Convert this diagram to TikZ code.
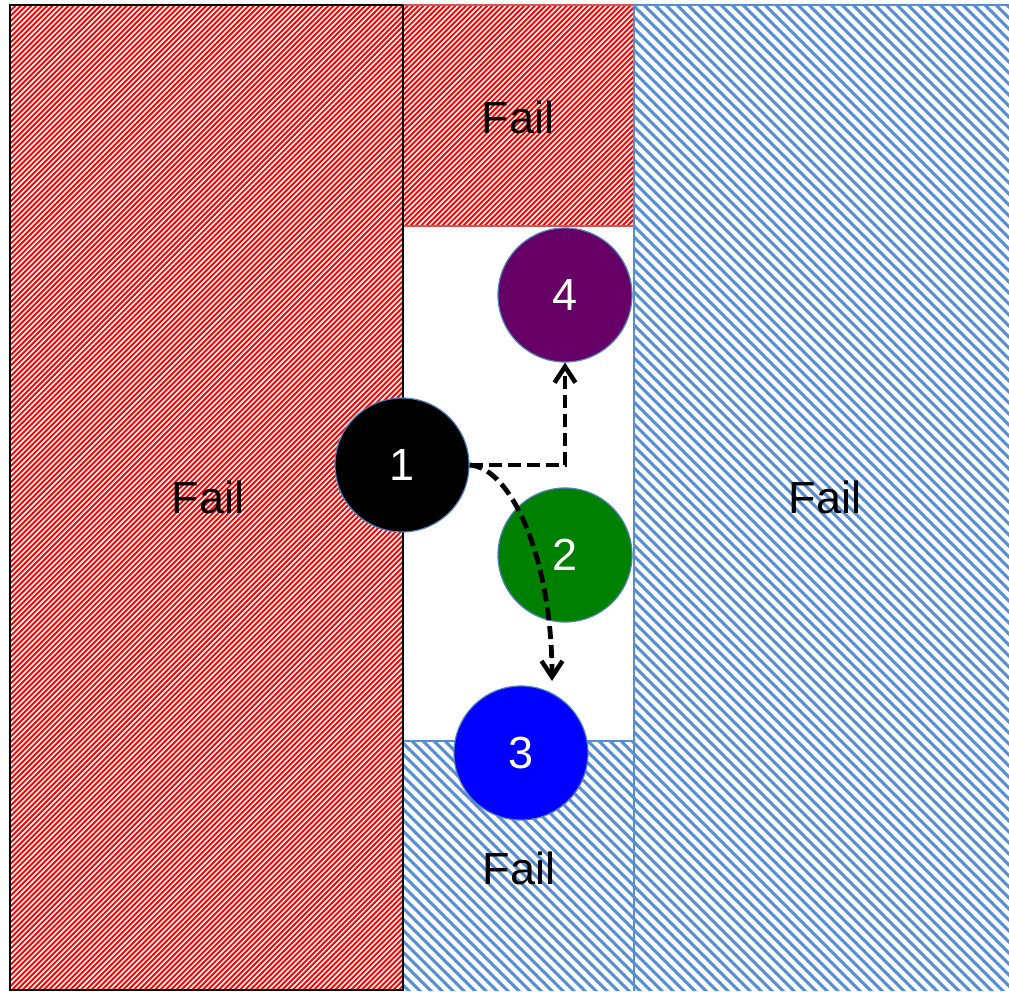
\documentclass[tikz,border=0pt]{standalone}
\usepackage{fontspec}
\setmainfont{Liberation Sans}
\usetikzlibrary{arrows.meta}
\definecolor{hblue}{RGB}{85,142,213}
\definecolor{hred}{RGB}{255,0,0}
\definecolor{rededge}{RGB}{200,90,90}
\definecolor{ringc}{RGB}{79,129,189}
\definecolor{c4}{RGB}{102,0,102}
\definecolor{c2}{RGB}{0,128,0}
\definecolor{c3}{RGB}{0,0,255}
\tikzset{
  redline/.style={draw=hred,line width=1.9pt},
  blueline/.style={draw=hblue,line width=3.1pt},
  failtext/.style={font=\fontsize{45}{50}\selectfont,text=black,inner sep=0pt},
  ball/.style={circle,minimum size=134pt,inner sep=0pt,draw=ringc,line width=1.2pt,text=white,font=\fontsize{45}{50}\selectfont},
  path arrow/.style={draw=black,line width=4.8pt,dash pattern=on 13pt off 6pt,-{Straight Barb[length=16pt,width=21pt,line width=4.5pt]}}
}
\begin{document}
\begin{tikzpicture}[x=1pt,y=-1pt]
\useasboundingbox (0,0) rectangle (1009,991);
\fill[white] (0,0) rectangle (1009,991);
% red hatching (/ direction)
\begin{scope}
  \clip (10,5) rectangle (403,990) (403,5) rectangle (634,226);
  \foreach \c in {0,5.3,...,1700} {\draw[redline] (\c,0) -- ({\c-1000},1000);}
\end{scope}
% blue hatching (\ direction)
\begin{scope}
  \clip (634,5) rectangle (1009,991) (403,741) rectangle (634,991);
  \foreach \c in {-1000,-989,...,1020} {\draw[blueline] (\c,0) -- ({\c+1000},1000);}
\end{scope}
% borders
\draw[black,line width=1.5pt] (10,5) rectangle (403,990);
\draw[rededge,line width=1.2pt] (403,5) -- (634,5) (403,226) -- (634,226);
\draw[hblue,line width=1.5pt] (634,991) -- (634,5) -- (1009,5);
\draw[hblue,line width=1.5pt] (403,741) -- (634,741);
\draw[black,line width=1.5pt] (403,5) -- (403,990);
% labels
\node[failtext] (fl) at (208,497) {Fail};
\node[failtext] (fr) at (825,497) {Fail};
\node[failtext] (ft) at (518,117) {Fail};
\node[failtext] (fb) at (519,868) {Fail};
% balls
\node[ball,fill=c4] (n4) at (565,295) {4};
\node[ball,fill=c2] (n2) at (565,555) {2};
\node[ball,fill=c3] (n3) at (521,753) {3};
\node[ball,fill=black] (n1) at (402,465) {1};
% paths
\coordinate (e3) at (552,681);
\draw[path arrow] (n1.east) -| (n4.south);
\draw[path arrow] (n1.east) .. controls (512,468) and (552,560) .. (e3);
\end{tikzpicture}
\end{document}
